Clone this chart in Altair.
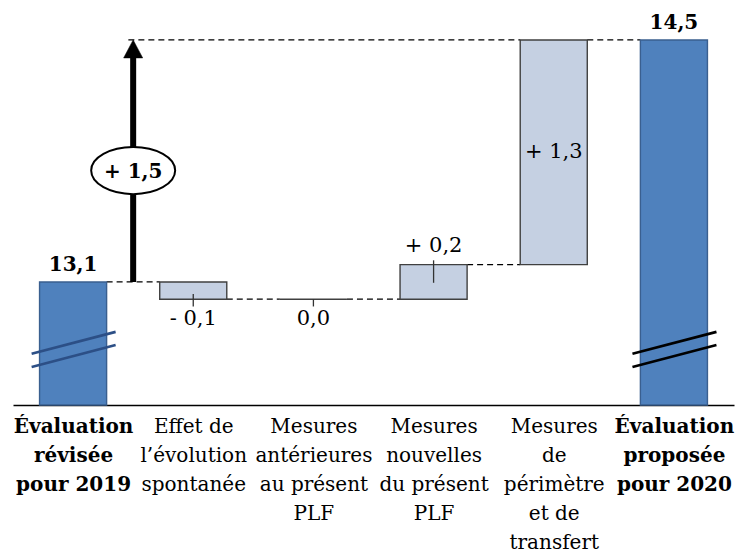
import json

import altair as alt
import pandas as pd

# ---------------------------------------------------------------- data ----
categories = [
    "Évaluation|révisée|pour 2019",
    "Effet de|l’évolution|spontanée",
    "Mesures|antérieures|au présent|PLF",
    "Mesures|nouvelles|du présent|PLF",
    "Mesures|de|périmètre|et de|transfert",
    "Évaluation|proposée|pour 2020",
]
bold_positions = [0, 5]
start_total = 13.1
steps = [-0.1, 0.0, 0.2, 1.3]
end_total = 14.5
arrow_change = 1.5

# ------------------------------------------------------------- styling ----
Y_FLOOR, Y_TOP = 12.388, 14.731      # truncated value axis
BAR_HALF = 0.279                     # half bar width, in category units
BLUE, BLUE_EDGE = "#4F81BD", "#3A5F8F"
PALE, PALE_EDGE = "#C5D0E2", "#404040"
BREAK_COLORS = ["#2C4F86", "#000000"]
FONT = "DejaVu Serif"


def fr(v):
    return f"{abs(v):.1f}".replace(".", ",")


def signed(v):
    if round(v, 1) == 0:
        return fr(v)
    return ("+ " if v > 0 else "- ") + fr(v)


# ------------------------------------------------------ waterfall table ----
rows = [dict(i=0, lo=Y_FLOOR, hi=start_total, kind="total",
             label=fr(start_total), place="total")]
levels = [start_total]
level = start_total
for k, d in enumerate(steps, start=1):
    new = round(level + d, 4)
    place = "below" if d <= 0 else ("inside" if d >= 0.5 else "above")
    rows.append(dict(i=k, lo=min(level, new), hi=max(level, new),
                     kind="delta", label=signed(d), place=place))
    levels.append(new)
    level = new
rows.append(dict(i=5, lo=Y_FLOOR, hi=end_total, kind="total",
                 label=fr(end_total), place="total"))
bars = pd.DataFrame(rows)
bars["x1"] = bars["i"] - BAR_HALF
bars["x2"] = bars["i"] + BAR_HALF
bars["mid"] = (bars["lo"] + bars["hi"]) / 2

# dashed links between consecutive bars, plus the guide from the arrow tip
links = pd.DataFrame(
    [dict(x1=i + BAR_HALF, x2=i + 1 - BAR_HALF, y=levels[i]) for i in range(5)]
    + [dict(x1=0.46, x2=4 - BAR_HALF, y=end_total)]
)

# short leader ticks between delta bars and their labels
leaders = []
for r in rows:
    if r["place"] == "below":
        leaders.append(dict(x=r["i"], y1=min(r["hi"], r["lo"] + 0.03), y2=r["lo"] - 0.042))
    elif r["place"] == "above":
        leaders.append(dict(x=r["i"], y1=r["hi"] + 0.025, y2=r["hi"] - 0.105))
leaders = pd.DataFrame(leaders)

# axis-break marks on the two total bars
breaks = []
for n, i in enumerate(bold_positions):
    for base in (12.684, 12.608):
        breaks.append(dict(x1=i - 0.345, x2=i + 0.354, y1=base, y2=base + 0.127,
                           c=BREAK_COLORS[n], key=f"{i}-{base}"))
breaks = pd.DataFrame(breaks)

arrow = pd.DataFrame([dict(x=0.5, y1=start_total, y2=end_total - 0.06, tip=end_total,
                           badge=start_total + 0.46 * (end_total - start_total),
                           label="+ " + fr(arrow_change))])

# --------------------------------------------------------------- scales ----
label_expr = f"split({json.dumps(categories, ensure_ascii=False)}[datum.value], '|')"
weight_test = " || ".join(f"datum.value == {p}" for p in bold_positions)
x_axis = alt.Axis(
    values=list(range(len(categories))), title=None, ticks=False, grid=False,
    domainColor="black", domainWidth=1.5, labelExpr=label_expr,
    labelFont=FONT, labelFontSize=20, labelColor="black", labelLineHeight=29,
    labelBaseline="top", labelPadding=11, labelOverlap=False, labelFlush=False,
    labelFontWeight={"condition": {"test": weight_test, "value": "bold"}, "value": "normal"},
)
x_scale = alt.Scale(domain=[-0.5, 5.5], nice=False, zero=False)
y_scale = alt.Scale(domain=[Y_FLOOR, Y_TOP], nice=False, zero=False)


def X(f):
    return alt.X(f, type="quantitative", scale=x_scale, axis=x_axis)


def Y(f):
    return alt.Y(f, type="quantitative", scale=y_scale, axis=None)


# ---------------------------------------------------------------- marks ----
link_layer = alt.Chart(links).mark_rule(color="black", strokeWidth=1.2, strokeDash=[6, 4]).encode(
    x=X("x1"), x2="x2", y=Y("y"))

bar_layer = alt.Chart(bars).mark_rect(strokeWidth=1.4).encode(
    x=X("x1"), x2="x2", y=Y("lo"), y2="hi",
    fill=alt.Fill("kind:N", scale=alt.Scale(domain=["total", "delta"], range=[BLUE, PALE]), legend=None),
    stroke=alt.Stroke("kind:N", scale=alt.Scale(domain=["total", "delta"], range=[BLUE_EDGE, PALE_EDGE]), legend=None),
)

leader_layer = alt.Chart(leaders).mark_rule(color="#333333", strokeWidth=1.3).encode(
    x=X("x"), y=Y("y1"), y2="y2")

break_layer = alt.Chart(breaks).mark_rule(strokeWidth=2.6).encode(
    x=X("x1"), x2="x2", y=Y("y1"), y2="y2",
    color=alt.Color("key:N", scale=alt.Scale(domain=list(breaks["key"]), range=list(breaks["c"])), legend=None))

shaft = alt.Chart(arrow).mark_rule(color="black", strokeWidth=6).encode(x=X("x"), y=Y("y1"), y2="y2")
head = alt.Chart(arrow).mark_point(
    shape="M0,0L-0.53,1L0.53,1Z", size=1296, filled=True, fill="black", stroke="black",
    strokeWidth=0.5, opacity=1).encode(x=X("x"), y=Y("tip"))
ellipse_path = ("M1,0C1,0.3093,0.5523,0.56,0,0.56C-0.5523,0.56,-1,0.3093,-1,0"
                "C-1,-0.3093,-0.5523,-0.56,0,-0.56C0.5523,-0.56,1,-0.3093,1,0Z")
badge = alt.Chart(arrow).mark_point(
    shape=ellipse_path, size=7056, filled=True, fill="white", stroke="black",
    strokeWidth=2, opacity=1).encode(x=X("x"), y=Y("badge"))
badge_text = alt.Chart(arrow).mark_text(
    font=FONT, fontSize=20, fontWeight="bold", color="black", baseline="middle", dy=1).encode(
    x=X("x"), y=Y("badge"), text="label:N")

total_text = alt.Chart(bars).transform_filter("datum.place == 'total'").mark_text(
    font=FONT, fontSize=20, fontWeight="bold", color="black", baseline="bottom", dy=-7).encode(
    x=X("i"), y=Y("hi"), text="label:N")
below_text = alt.Chart(bars).transform_filter("datum.place == 'below'").mark_text(
    font=FONT, fontSize=21, color="black", baseline="top", dy=9).encode(
    x=X("i"), y=Y("lo"), text="label:N")
above_text = alt.Chart(bars).transform_filter("datum.place == 'above'").mark_text(
    font=FONT, fontSize=21, color="black", baseline="bottom", dy=-9).encode(
    x=X("i"), y=Y("hi"), text="label:N")
inside_text = alt.Chart(bars).transform_filter("datum.place == 'inside'").mark_text(
    font=FONT, fontSize=21, color="black", baseline="middle").encode(
    x=X("i"), y=Y("mid"), text="label:N")

chart = alt.layer(
    link_layer, bar_layer, leader_layer, break_layer, shaft, head, badge, badge_text,
    total_text, below_text, above_text, inside_text,
).properties(
    width=721, height=405,
    padding={"left": 13, "top": 0, "right": 6, "bottom": 150},
    autosize=alt.AutoSizeParams(type="none"),
).configure_view(stroke=None)

chart.save("out.html", embed_options={"renderer": "svg", "actions": False})
